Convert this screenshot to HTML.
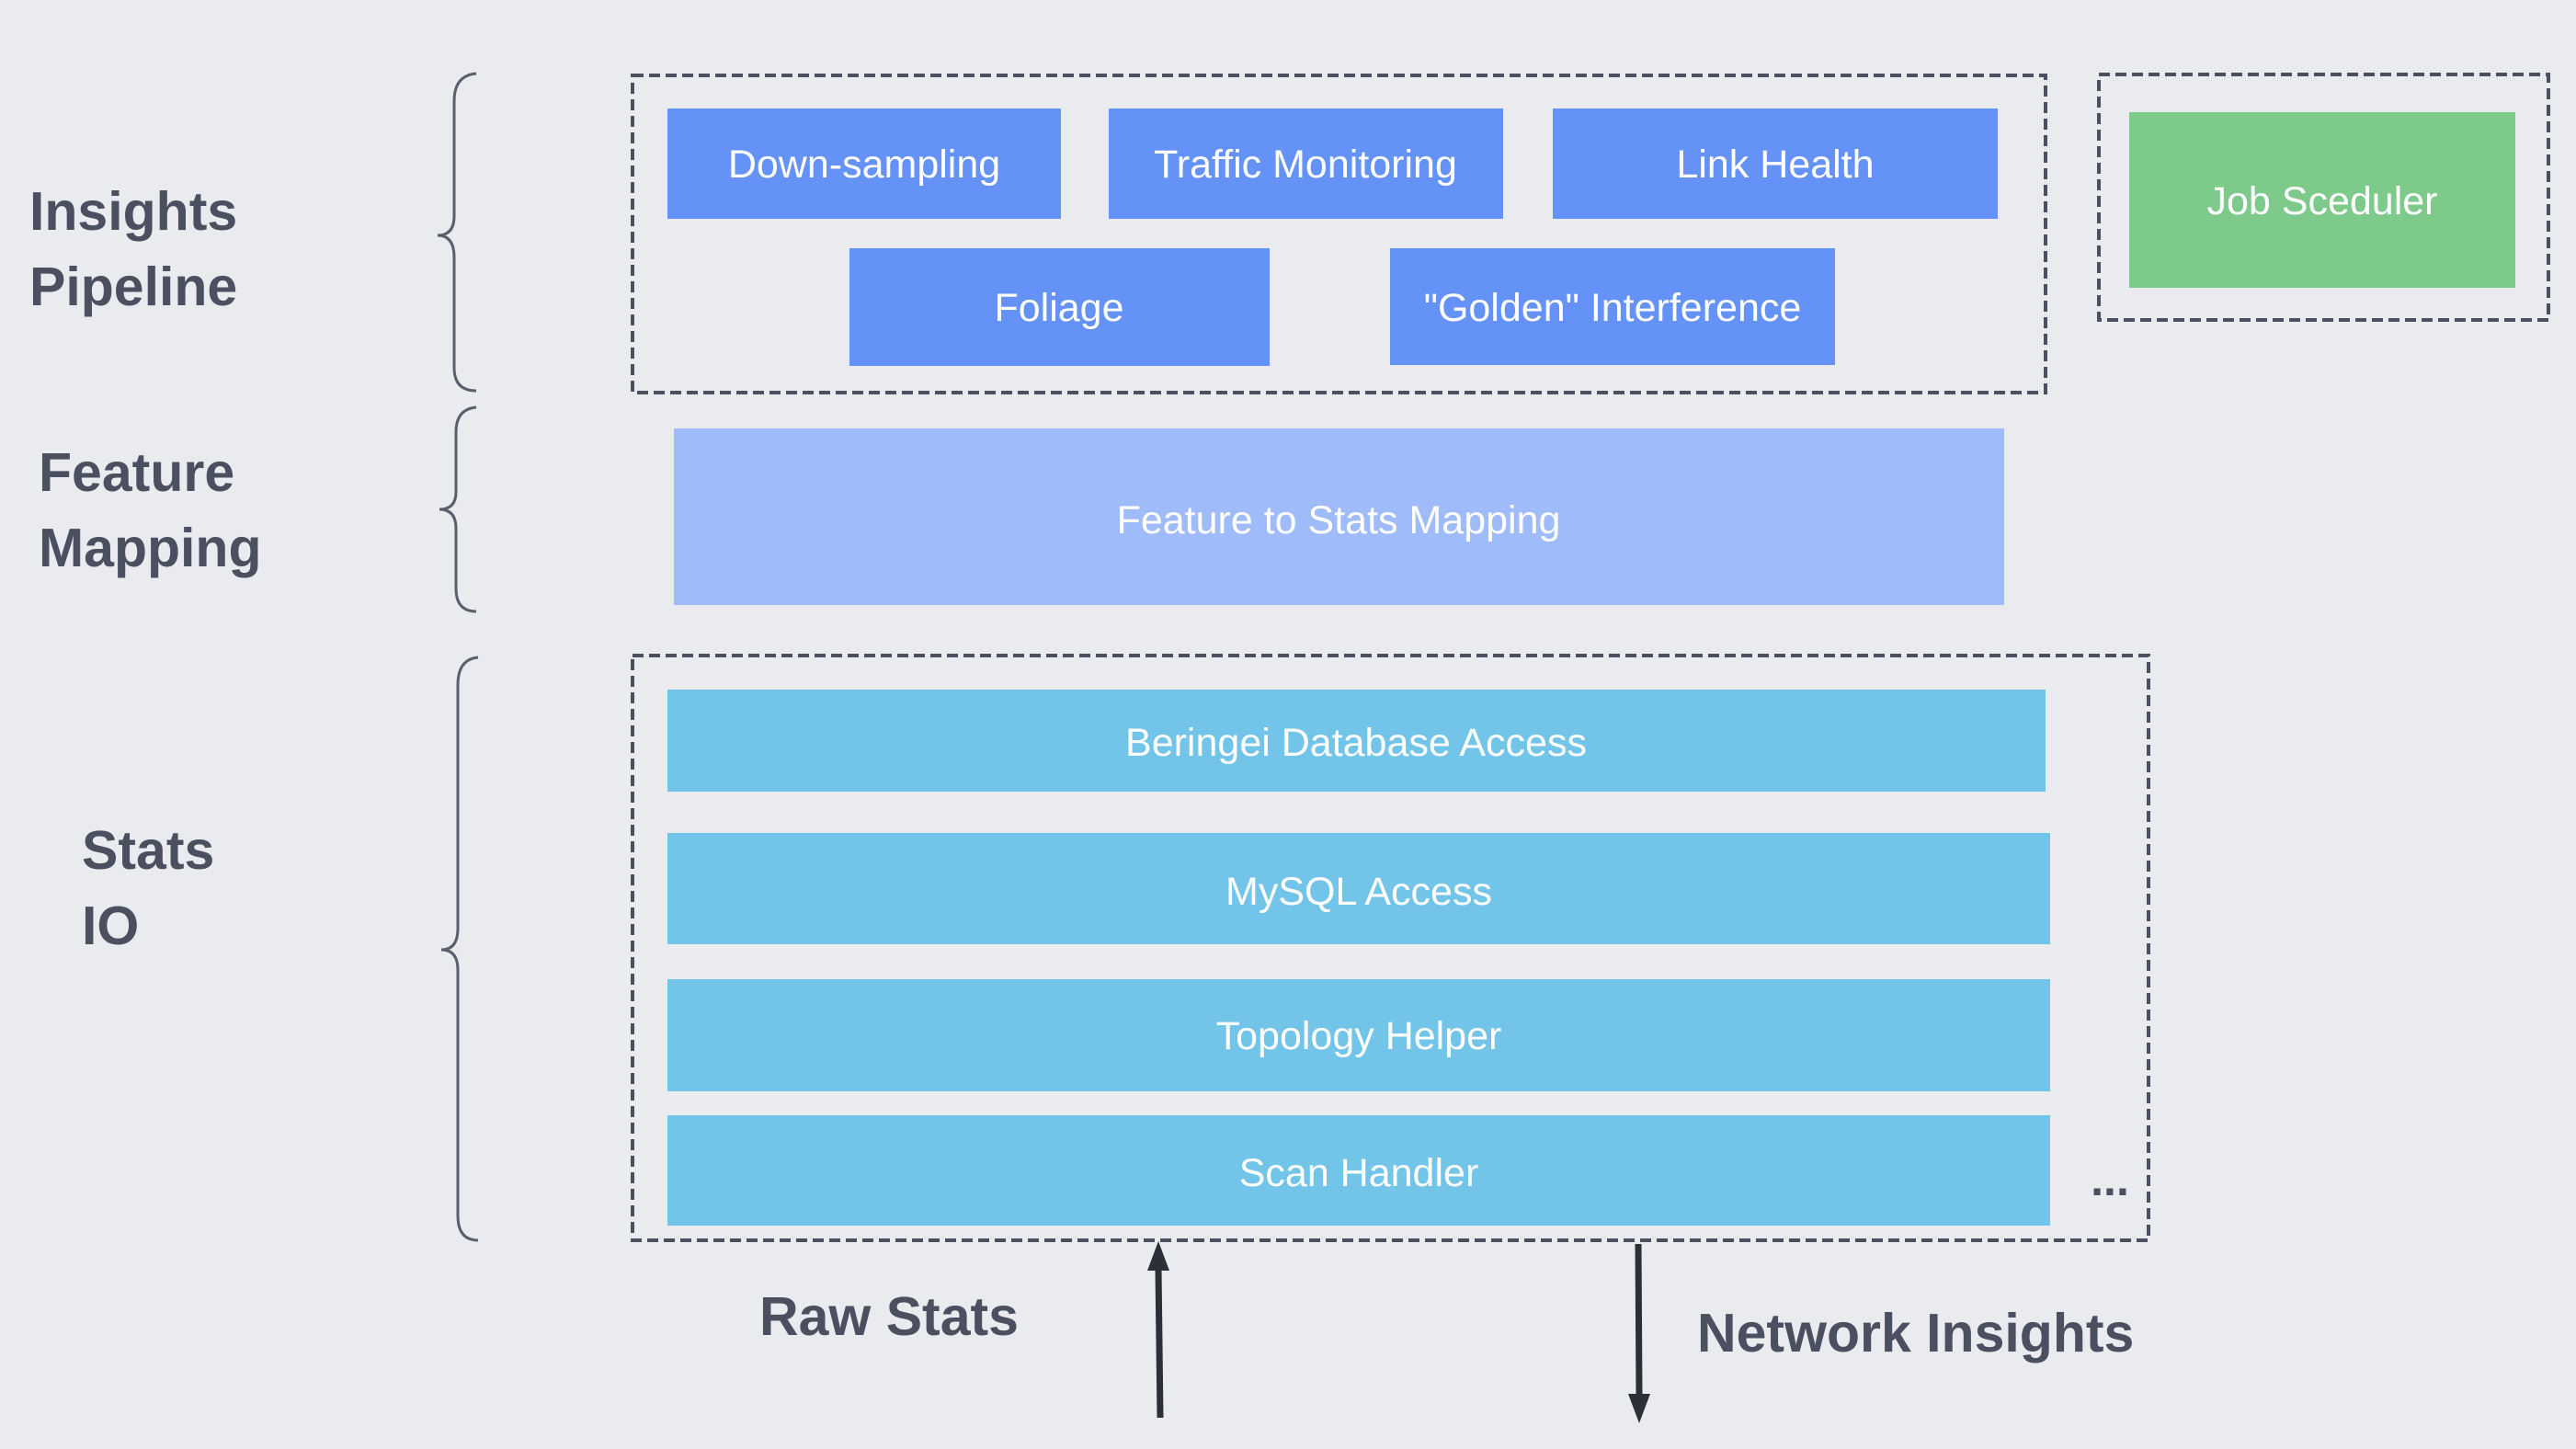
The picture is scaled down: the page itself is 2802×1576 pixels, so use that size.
<!DOCTYPE html>
<html><head><meta charset="utf-8"><style>
html,body{margin:0;padding:0;background:#e9ebef;}
svg{display:block}
text{font-family:"Liberation Sans",sans-serif;}
.w{fill:#fff;font-size:43px;text-anchor:middle;dominant-baseline:central}
.l{fill:#4b5060;font-size:59px;font-weight:bold}
</style></head><body>
<svg width="2802" height="1576" viewBox="0 0 2802 1576" xmlns="http://www.w3.org/2000/svg">
<rect width="2802" height="1576" fill="#e9ebef"/>
<g fill="none" stroke="#4b5060" stroke-width="4" stroke-dasharray="12,6">
<rect x="688" y="82" width="1537" height="345"/>
<rect x="2283" y="81" width="489" height="267"/>
<rect x="688" y="713" width="1649" height="636"/>
</g>
<g fill="none" stroke="#5a5f6c" stroke-width="3">
<path d="M518 80 Q494 82 494 110 L494 235 Q494 256 476 256 Q494 256 494 280 L494 400 Q494 425 518 425"/>
<path d="M518 443 Q496 445 496 470 L496 535 Q496 554 478 554 Q496 554 496 575 L496 640 Q496 665 518 665"/>
<path d="M520 715 Q498 717 498 745 L498 1010 Q498 1033 480 1033 Q498 1033 498 1055 L498 1322 Q498 1349 520 1349"/>
</g>
<rect x="726" y="118" width="428" height="120" fill="#6592f7"/>
<rect x="1206" y="118" width="429" height="120" fill="#6592f7"/>
<rect x="1689" y="118" width="484" height="120" fill="#6592f7"/>
<rect x="924" y="270" width="457" height="128" fill="#6592f7"/>
<rect x="1512" y="270" width="484" height="127" fill="#6592f7"/>
<rect x="2316" y="122" width="420" height="191" fill="#7dca8a"/>
<rect x="733" y="466" width="1447" height="192" fill="#a0bbf9"/>
<rect x="726" y="750" width="1499" height="111" fill="#72c4e8"/>
<rect x="726" y="906" width="1504" height="121" fill="#72c4e8"/>
<rect x="726" y="1065" width="1504" height="122" fill="#72c4e8"/>
<rect x="726" y="1213" width="1504" height="120" fill="#72c4e8"/>
<text class="w" x="940" y="179">Down-sampling</text>
<text class="w" x="1420" y="179">Traffic Monitoring</text>
<text class="w" x="1931" y="179">Link Health</text>
<text class="w" x="1152" y="335">Foliage</text>
<text class="w" x="1754" y="335">"Golden" Interference</text>
<text class="w" x="2526" y="219">Job Sceduler</text>
<text class="w" x="1456" y="566">Feature to Stats Mapping</text>
<text class="w" x="1475" y="808">Beringei Database Access</text>
<text class="w" x="1478" y="970">MySQL Access</text>
<text class="w" x="1478" y="1127">Topology Helper</text>
<text class="w" x="1478" y="1276">Scan Handler</text>
<text x="2295" y="1300" fill="#4b5060" font-size="50" font-weight="bold" font-family="Liberation Sans,sans-serif" text-anchor="middle">...</text>
<text class="l" x="32" y="250">Insights</text>
<text class="l" x="32" y="332">Pipeline</text>
<text class="l" x="42" y="534">Feature</text>
<text class="l" x="42" y="616">Mapping</text>
<text class="l" x="89" y="945">Stats</text>
<text class="l" x="89" y="1027">IO</text>
<text class="l" x="826" y="1452">Raw Stats</text>
<text class="l" x="1846" y="1470">Network Insights</text>
<g stroke="#2b2f38" stroke-width="7" fill="#2b2f38">
<line x1="1262" y1="1542" x2="1260" y2="1380"/>
<polygon points="1260,1350 1248,1382 1272,1382" stroke="none"/>
<line x1="1782" y1="1353" x2="1783" y2="1518"/>
<polygon points="1783,1548 1771,1516 1795,1516" stroke="none"/>
</g>
</svg>
</body></html>
